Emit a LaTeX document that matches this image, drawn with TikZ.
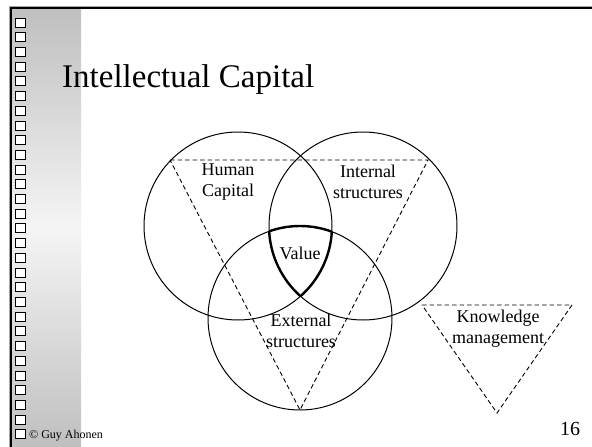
\documentclass[tikz,border=0pt]{standalone}
\usepackage{fontspec}
\setmainfont{Liberation Serif}
\begin{document}
\begin{tikzpicture}[x=1pt,y=-1pt]
	\tikzstyle{every node}=[inner sep=0pt,align=center]
	\tikzstyle{ring}=[draw,line width=1pt]
	\tikzstyle{tri}=[draw,line width=0.9pt,dash pattern=on 4.5pt off 3pt]
	\tikzstyle{lbl}=[font=\fontsize{18}{21}\selectfont]
	\tikzstyle{box}=[draw,fill=white,line width=0.9pt]
	\useasboundingbox (0,0) rectangle (592,447);
	\shade[top color=black!25,bottom color=black!4] (12,9) rectangle (81,228);
	\shade[top color=black!4,bottom color=black!25] (12,227.5) rectangle (81,447);
	\draw[black!35,line width=1pt] (9.5,447) -- (9.5,6.5) -- (592,6.5);
	\draw[line width=2.3pt] (11.2,447) -- (11.2,8.2) -- (592,8.2);
	\foreach \i in {0,...,28}
		\draw[box] (15.5,18+\i*14.71) rectangle +(9.5,9);
	\node[anchor=base west,font=\fontsize{33}{40}\selectfont] (title) at (62,87) {Intellectual Capital};
	\coordinate (hc) at (238,226);
	\coordinate (is) at (363,226);
	\coordinate (es) at (300,318);
	\draw[ring] (hc) circle[radius=94pt];
	\draw[ring] (is) circle[radius=94pt];
	\draw[ring] (es) circle[radius=92pt];
	\begin{scope}
		\clip (is) circle[radius=94pt];
		\clip (es) circle[radius=92pt];
		\draw[line width=2.4pt] (hc) circle[radius=94pt];
	\end{scope}
	\begin{scope}
		\clip (hc) circle[radius=94pt];
		\clip (es) circle[radius=92pt];
		\draw[line width=2.4pt] (is) circle[radius=94pt];
	\end{scope}
	\begin{scope}
		\clip (hc) circle[radius=94pt];
		\clip (is) circle[radius=94pt];
		\draw[line width=2.4pt] (es) circle[radius=92pt];
	\end{scope}
	\coordinate (ta) at (170,160);
	\coordinate (tb) at (428,160);
	\coordinate (tc) at (300,410);
	\draw[tri] (ta) -- (tb) -- (tc) -- cycle;
	\coordinate (ka) at (422,305);
	\coordinate (kb) at (572,305);
	\coordinate (kc) at (497,413);
	\draw[tri] (ka) -- (kb) -- (kc) -- cycle;
	\node[lbl] (human) at (228,182) {Human\\Capital};
	\node[lbl] (internal) at (368,182) {Internal\\structures};
	\node[lbl] (value) at (300,253) {Value};
	\node[lbl] (external) at (301,331) {External\\structures};
	\node[lbl] (knowledge) at (498,329) {Knowledge\\management};
	\node[anchor=base,font=\fontsize{20}{24}\selectfont] (page) at (570,435) {16};
	\node[anchor=base west,font=\fontsize{12}{14}\selectfont] (author) at (29,438) {© Guy Ahonen};
\end{tikzpicture}
\end{document}
